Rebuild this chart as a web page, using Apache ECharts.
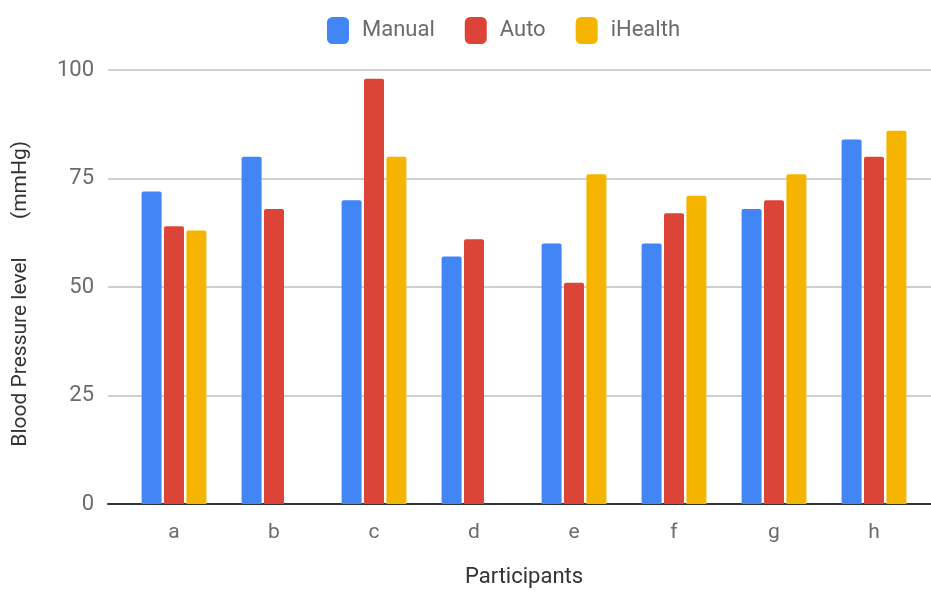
<!DOCTYPE html>
<html>
<head>
<meta charset="utf-8">
<script src="https://cdn.jsdelivr.net/npm/echarts@6/dist/echarts.min.js"></script>
<style>
  html, body { margin: 0; padding: 0; background: #fff; }
  #chart { width: 931px; height: 593px; }
</style>
</head>
<body>
<div id="chart"></div>
<script>
// Blood pressure readings per participant, three measuring methods
const participants = ['a', 'b', 'c', 'd', 'e', 'f', 'g', 'h'];
const manual  = [72, 80, 70, 57, 60, 60, 68, 84];
const auto    = [64, 68, 98, 61, 51, 67, 70, 80];
const iHealth = [63, null, 80, null, 76, 71, 76, 86];
const yTicks  = [0, 25, 50, 75, 100];

const FONT = 'Roboto, "Noto Sans", sans-serif';
const COLORS = { Manual: '#4285F4', Auto: '#DB4437', iHealth: '#F4B400' };

const chart = echarts.init(document.getElementById('chart'), null, { renderer: 'canvas' });

function barSeries(name, data) {
  return {
    name: name,
    type: 'bar',
    xAxisIndex: 1,
    yAxisIndex: 1,
    data: data,
    barWidth: 20,
    barGap: '12%',
    itemStyle: { color: COLORS[name], borderRadius: [2, 2, 0, 0] }
  };
}

chart.setOption({
  animation: false,
  textStyle: { fontFamily: FONT },
  legend: {
    top: 12,
    left: 322,
    itemWidth: 22,
    itemHeight: 27,
    itemGap: 30,
    icon: 'roundRect',
    textStyle: { fontSize: 22, color: '#6b6b6b', fontFamily: FONT, padding: [0, 0, 0, 8] },
    data: ['Manual', 'Auto', 'iHealth']
  },
  grid: [
    // frame for the value scale and gridlines
    { left: 108, right: 0, top: 70, bottom: 89 },
    // frame for the bar categories
    { left: 124, width: 800, top: 70, bottom: 89 }
  ],
  xAxis: [
    {
      gridIndex: 0,
      type: 'value',
      min: 0,
      max: 1,
      axisLine: { show: true, lineStyle: { color: '#333', width: 2 } },
      axisTick: { show: false },
      axisLabel: { show: false },
      splitLine: { show: false }
    },
    {
      gridIndex: 1,
      type: 'category',
      data: participants,
      axisLine: { show: false },
      axisTick: { show: false },
      axisLabel: { fontSize: 21, color: '#6b6b6b', margin: 18, fontFamily: FONT },
      name: 'Participants',
      nameLocation: 'middle',
      nameGap: 62,
      nameTextStyle: { fontSize: 22, color: '#333', fontFamily: FONT }
    }
  ],
  yAxis: [
    {
      gridIndex: 0,
      type: 'value',
      min: yTicks[0],
      max: yTicks[yTicks.length - 1],
      interval: 25,
      axisLine: { show: false },
      axisTick: { show: false },
      axisLabel: { fontSize: 22, color: '#6b6b6b', margin: 14, fontFamily: FONT },
      splitLine: { lineStyle: { color: '#cfcfcf', width: 2 } }
    },
    {
      gridIndex: 1,
      type: 'value',
      min: yTicks[0],
      max: yTicks[yTicks.length - 1],
      show: false,
      splitLine: { show: false }
    }
  ],
  graphic: [
    {
      type: 'text',
      x: 21,
      y: 352,
      rotation: Math.PI / 2,
      style: {
        text: 'Blood Pressure level',
        fontSize: 21,
        fontFamily: FONT,
        fill: '#333',
        align: 'center',
        verticalAlign: 'middle'
      }
    },
    {
      type: 'text',
      x: 21,
      y: 180,
      rotation: Math.PI / 2,
      style: {
        text: '(mmHg)',
        fontSize: 21,
        fontFamily: FONT,
        fill: '#333',
        align: 'center',
        verticalAlign: 'middle'
      }
    }
  ],
  series: [
    barSeries('Manual', manual),
    barSeries('Auto', auto),
    barSeries('iHealth', iHealth)
  ]
});
</script>
</body>
</html>
